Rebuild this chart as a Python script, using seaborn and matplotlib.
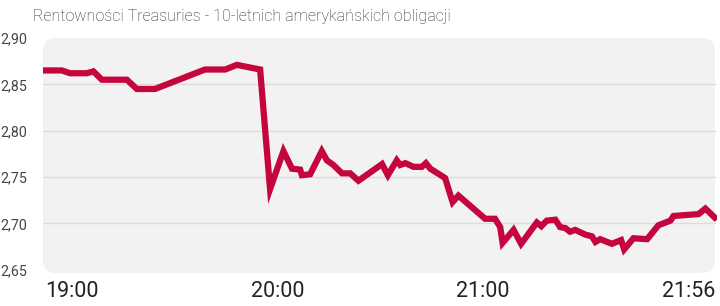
import matplotlib
matplotlib.use("Agg")
import matplotlib.pyplot as plt
import seaborn as sns
import pandas as pd
from matplotlib.patches import FancyBboxPatch
from matplotlib.transforms import IdentityTransform

# minutes relative to 19:00
minutes = [-8.4, -2.9, -0.5, 4.4, 6.3, 8.8, 16.1, 19.0, 24.3, 38.9, 44.8, 48.2, 55.0,
           57.9, 61.8, 64.3, 66.7, 67.2, 69.6, 71.1, 73.0, 74.5, 76.4, 78.9, 81.3,
           83.7, 90.6, 92.3, 94.9, 95.9, 97.4, 99.8, 102.2, 103.4, 104.7, 109.0,
           111.2, 112.9, 120.7, 123.6, 125.1, 125.8, 129.0, 131.2, 135.8, 137.1,
           138.7, 141.2, 142.6, 144.1, 145.5, 147.0, 149.9, 151.9, 152.9, 154.3,
           157.7, 160.4, 161.3, 164.0, 168.0, 171.3, 174.8, 175.7, 179.2, 183.0,
           185.0, 188.4]
yields = [2.865, 2.865, 2.862, 2.862, 2.864, 2.855, 2.855, 2.845, 2.845, 2.866, 2.866,
          2.871, 2.866, 2.737, 2.778, 2.759, 2.758, 2.752, 2.753, 2.764, 2.778, 2.768,
          2.763, 2.754, 2.754, 2.746, 2.764, 2.752, 2.768, 2.763, 2.765, 2.761, 2.761,
          2.765, 2.759, 2.749, 2.723, 2.730, 2.705, 2.705, 2.696, 2.679, 2.693, 2.678,
          2.701, 2.697, 2.703, 2.704, 2.696, 2.695, 2.691, 2.693, 2.688, 2.686, 2.680,
          2.683, 2.678, 2.682, 2.672, 2.684, 2.683, 2.698, 2.703, 2.708, 2.709, 2.710,
          2.716, 2.704]

ytick_vals = [2.65, 2.70, 2.75, 2.80, 2.85, 2.90]
ytick_labels = ["2,65", "2,70", "2,75", "2,80", "2,85", "2,90"]
grid_vals = [2.70, 2.75, 2.80, 2.85]
xtick_vals = [0, 60, 120, 180]
xtick_labels = ["19:00", "20:00", "21:00", "21:56"]

title = "Rentowności Treasuries - 10-letnich amerykańskich obligacji"

sns.set_theme(style="white")
plt.rcParams['font.family'] = ['Roboto', 'DejaVu Sans']

W, H = 720, 306
fig = plt.figure(figsize=(W / 100, H / 100), dpi=100)
fig.patch.set_facecolor("white")

left_px, right_px, top_px, bot_px = 43, 717, 38, 273
ax = fig.add_axes([left_px / W, (H - bot_px) / H, (right_px - left_px) / W, (bot_px - top_px) / H])
ax.patch.set_visible(False)

bg = FancyBboxPatch((left_px, H - bot_px), (715 - left_px), (bot_px - top_px),
                    boxstyle="round,pad=0,rounding_size=13",
                    transform=IdentityTransform(), facecolor="#f2f2f3",
                    edgecolor="none", zorder=0, clip_on=False)
ax.add_patch(bg)

for g in grid_vals:
    ax.axhline(g, xmax=(715 - left_px) / (right_px - left_px), color="#dcdcdc", lw=1.0, zorder=1)

df = pd.DataFrame({"minutes": minutes, "yield": yields})
sns.lineplot(data=df, x="minutes", y="yield", ax=ax, color="#c5053d",
             linewidth=4.5, zorder=3)
for ln in ax.get_lines():
    if ln.get_linewidth() > 3:
        ln.set_solid_joinstyle("miter")
        ln.set_solid_capstyle("butt")

ax.set_xlim(-8.4, 188.4)
ax.set_ylim(2.6465, 2.8986)
ax.set_yticks(ytick_vals)
ax.set_yticklabels(ytick_labels)
ax.set_xticks(xtick_vals)
ax.set_xticklabels(xtick_labels)
ax.tick_params(axis="y", length=0, pad=11.5, labelsize=10.3, labelcolor="#444444")
ax.tick_params(axis="x", length=0, pad=6, labelsize=15.5, labelcolor="#222222")
ax.set_xlabel("")
ax.set_ylabel("")
for s in ax.spines.values():
    s.set_visible(False)
ax.grid(False)

fig.text(33 / W, 1 - 21 / H, title, ha="left", va="baseline", fontsize=11.5,
         color="#2a2a2a", fontweight="light", family=['Roboto', 'DejaVu Sans'])

fig.savefig("out.png", dpi=100)
